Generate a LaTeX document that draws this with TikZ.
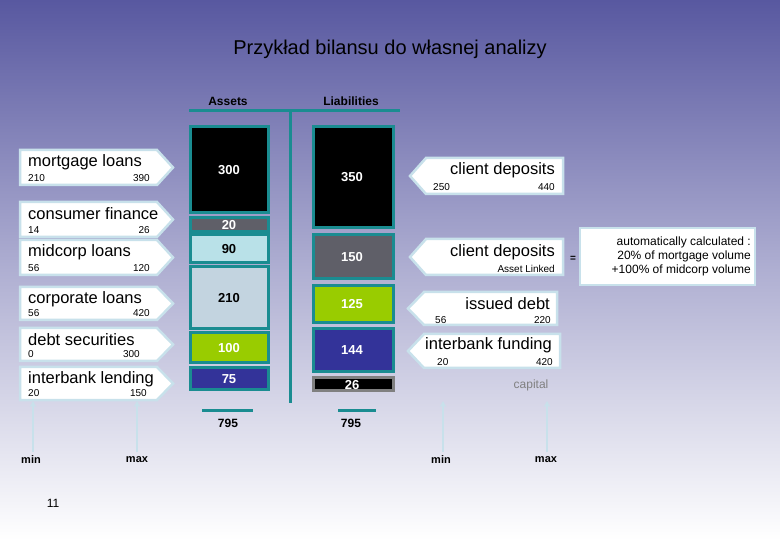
\documentclass[tikz,border=0pt]{standalone}
\usepackage{fontspec}
\setmainfont{Liberation Sans}
\usetikzlibrary{arrows.meta}
\definecolor{tealx}{RGB}{26,140,145}
\definecolor{bgtop}{RGB}{88,88,160}
\definecolor{bgmid}{RGB}{175,175,210}
\definecolor{grnx}{RGB}{153,204,0}
\definecolor{bluex}{RGB}{51,51,153}
\definecolor{grayx}{RGB}{95,95,104}
\definecolor{lbx}{RGB}{185,225,232}
\definecolor{lgx}{RGB}{195,212,224}
\definecolor{labb}{RGB}{200,225,235}
\newcommand\leftlabx[7]{%
 \draw[lab] (20,#1) -- (157,#1) -- (173,{(#1+#2)/2}) -- (157,#2) -- (20,#2) -- cycle;
 \node[ttl,anchor=west] (#7t) at (28,{#1+12}) {#3};
 \node[num,anchor=west] (#7a) at (28,{#2-7}) {#4};
 \node[num,anchor=east] (#7b) at (#5,{#2-7}) {#6};}
\newcommand\rightlabx[4]{%
 \draw[lab] (#4,#1) -- (#3,#1) -- (#3,#2) -- (#4,#2) -- ({#4-16},{(#1+#2)/2}) -- cycle;}
\begin{document}
\begin{tikzpicture}[x=1pt,y=-1pt,
  lab/.style={draw=labb,line width=2.5pt,fill=white},
  bx/.style={draw=tealx,line width=3pt},
  ttl/.style={font=\fontsize{16.5}{16}\selectfont,inner sep=0pt},
  num/.style={font=\fontsize{10}{10}\selectfont,inner sep=0pt},
  val/.style={font=\fontsize{13}{13}\selectfont\bfseries,inner sep=0pt},
  tline/.style={draw=tealx,line width=3pt},
  up/.style={draw=labb,line width=2pt,-{Stealth[length=6pt,width=6pt]}},
  mm/.style={font=\fontsize{11}{11}\selectfont\bfseries,inner sep=0pt}]
\shade[top color=bgtop, bottom color=white, middle color=bgmid] (0,0) rectangle (780,540);
\useasboundingbox (0,0) rectangle (780,540);
\node[font=\fontsize{20}{20}\selectfont] (title) at (390,49) {Przykład bilansu do własnej analizy};
\node[font=\fontsize{12}{12}\selectfont\bfseries] (as) at (228,101) {Assets};
\node[font=\fontsize{12}{12}\selectfont\bfseries] (li) at (351,101) {Liabilities};
\draw[tline] (189,111) -- (400,111);
\draw[tline] (290,111) -- (290,403);
% left labels
\leftlabx{150}{185}{mortgage loans}{210}{150}{390}{m}
\leftlabx{202}{237}{consumer finance}{14}{150}{26}{c}
\leftlabx{240}{275}{midcorp loans}{56}{150}{120}{d}
\leftlabx{287}{320}{corporate loans}{56}{150}{420}{k}
\leftlabx{328}{361}{debt securities}{0}{140}{300}{s}
\leftlabx{367}{400}{interbank lending}{20}{147}{150}{i}
% asset boxes
\draw[bx,fill=black] (190,127) rectangle (268,213); \node[val,white] (a1) at (229,170) {300};
\draw[bx,fill=grayx] (190,218) rectangle (268,232); \node[val,white] (a2) at (229,225) {20};
\draw[bx,fill=lbx] (190,235) rectangle (268,263); \node[val] (a3) at (229,249) {90};
\draw[bx,fill=lgx] (190,267) rectangle (268,329); \node[val] (a4) at (229,298) {210};
\draw[bx,fill=grnx] (190,333) rectangle (268,363); \node[val,white] (a5) at (229,348) {100};
\draw[bx,fill=bluex] (190,368) rectangle (268,390); \node[val,white] (a6) at (229,379) {75};
% liability boxes
\draw[bx,fill=black] (313,127) rectangle (393,228); \node[val,white] (l1) at (352,177) {350};
\draw[bx,fill=grayx] (313,235) rectangle (393,279); \node[val,white] (l2) at (352,257) {150};
\draw[bx,fill=grnx] (313,286) rectangle (393,323); \node[val,white] (l3) at (352,304) {125};
\draw[bx,fill=bluex] (313,329) rectangle (393,372); \node[val,white] (l4) at (352,350) {144};
\draw[draw=gray,line width=3pt,fill=black] (313,378) rectangle (393,391); \node[val,white] (l5) at (352,385) {26};
% totals
\draw[tline] (202,410) -- (253,410); \node[font=\fontsize{12}{12}\selectfont\bfseries] (t1) at (228,423) {795};
\draw[tline] (338,410) -- (376,410); \node[font=\fontsize{12}{12}\selectfont\bfseries] (t2) at (351,423) {795};
% right labels
\rightlabx{158}{194}{563}{426}
\node[ttl,anchor=east] (r1) at (555,170) {client deposits};
\node[num,anchor=west] (r1a) at (433,187) {250};
\node[num,anchor=east] (r1b) at (555,187) {440};
\rightlabx{239}{275}{563}{426}
\node[ttl,anchor=east] (r2) at (555,252) {client deposits};
\node[num,anchor=east] (r2a) at (555,269) {Asset Linked};
\rightlabx{292}{325}{557}{424}
\node[ttl,anchor=east] (r3) at (550,304) {issued debt};
\node[num,anchor=west] (r3a) at (435,320) {56};
\node[num,anchor=east] (r3b) at (551,320) {220};
\rightlabx{334}{368}{560}{424}
\node[ttl,anchor=east] (r4) at (552,345) {interbank funding};
\node[num,anchor=west] (r4a) at (437,362) {20};
\node[num,anchor=east] (r4b) at (553,362) {420};
\node[font=\bfseries] (eq) at (573,259) {=};
\draw[lab] (580,228) rectangle (755,285);
\node[font=\fontsize{12}{14}\selectfont,align=right,anchor=east,inner sep=0pt] (auto) at (751,256) {automatically calculated :\\20\% of mortgage volume\\+100\% of midcorp volume};
\node[font=\fontsize{12}{12}\selectfont,text=gray] (cap) at (531,385) {capital};
% min/max
\coordinate (u1) at (33,401); \coordinate (u2) at (137,401);
\coordinate (u3) at (443,401); \coordinate (u4) at (547,401);
\node[mm] (mn1) at (31,460) {min};
\node[mm] (mx1) at (137,460) {max};
\node[mm] (mn2) at (441,460) {min};
\node[mm] (mx2) at (546,460) {max};
\draw[up] (33,452) -- (u1);
\draw[up] (137,452) -- (u2);
\draw[up] (443,452) -- (u3);
\draw[up] (547,452) -- (u4);
\node[font=\fontsize{12}{12}\selectfont] (pg) at (53,503) {11};
\end{tikzpicture}
\end{document}
